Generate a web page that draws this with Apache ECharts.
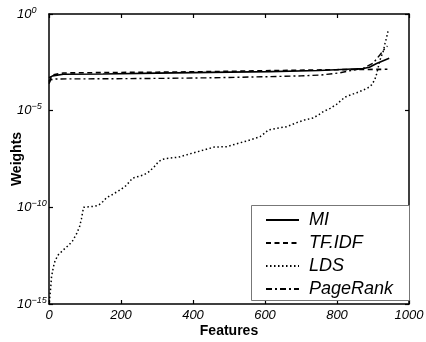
<!DOCTYPE html>
<html><head><meta charset="utf-8">
<script src="https://cdn.jsdelivr.net/npm/echarts@6/dist/echarts.min.js"></script>
<style>html,body{margin:0;padding:0;background:#fff}#c{width:426px;height:342px}</style>
</head><body><div id="c"></div>
<script>
// Data (y values given as log10 of weight)
const xTicks = [0, 200, 400, 600, 800, 1000];
const yTickExps = [0, -5, -10, -15];
const seriesNames = ['MI', 'TF.IDF', 'LDS', 'PageRank'];

const miX = [0, 10, 40, 150, 300, 450, 614, 750, 873, 890, 910, 945];
const miLog = [-3.3, -3.2, -3.12, -3.1, -3.06, -3.02, -2.98, -2.92, -2.82, -2.75, -2.56, -2.29];

const tfX = [0, 10, 40, 150, 300, 450, 614, 800, 940];
const tfLog = [-3.5, -3.15, -3.05, -3.03, -3.01, -2.98, -2.93, -2.88, -2.86];

const ldsX = [1, 3, 5, 7, 12, 17, 26, 40, 55, 65, 77, 85, 90, 93, 96, 110, 125, 137, 150, 160, 175, 193, 211, 225, 231, 245, 262, 275, 285, 295, 304, 315, 327, 359, 396, 419, 440, 460, 494, 520, 549, 586, 600, 609, 630, 660, 688, 710, 734, 750, 762, 781, 799, 822, 840, 855, 873, 885, 896, 905, 910, 914, 919, 925, 929, 933, 938, 942];
const ldsLog = [-14.9, -14.5, -14.1, -13.6, -13.1, -12.75, -12.45, -12.2, -11.95, -11.75, -11.35, -11.0, -10.6, -10.3, -10.0, -9.97, -9.95, -9.9, -9.7, -9.5, -9.35, -9.15, -8.93, -8.65, -8.5, -8.42, -8.33, -8.2, -8.03, -7.85, -7.64, -7.52, -7.47, -7.41, -7.21, -7.09, -6.98, -6.88, -6.86, -6.72, -6.57, -6.35, -6.15, -6.0, -5.92, -5.83, -5.62, -5.48, -5.38, -5.2, -5.05, -4.88, -4.67, -4.3, -4.17, -4.07, -3.93, -3.83, -3.67, -3.4, -3.1, -2.8, -2.4, -2.1, -1.9, -1.55, -1.2, -0.85];

const prX = [0, 5, 20, 150, 308, 450, 614, 700, 753, 806, 840, 873, 900, 919, 933, 940];
const prLog = [-3.6, -3.4, -3.36, -3.35, -3.33, -3.3, -3.24, -3.2, -3.16, -3.05, -2.92, -2.81, -2.55, -2.12, -1.78, -1.66];

function pairs(xs, ls) { return xs.map((x, i) => [x, Math.pow(10, ls[i])]); }

const FONT = "'Liberation Sans', Arial, Helvetica, sans-serif";
const chart = echarts.init(document.getElementById('c'), null, {renderer: 'canvas'});

const axisLineStyle = {color: '#000', width: 1.5};
const tick = {show: true, inside: true, length: 4, lineStyle: {color: '#000', width: 1.2}};

const yLabelFmt = function (v) {
  const e = Math.round(Math.log10(v));
  return '{b|10}{s|' + (e < 0 ? '\u2212' + (-e) : e) + '}';
};

const option = {
  animation: false,
  backgroundColor: '#fff',
  grid: {left: 49, right: 17, top: 14, bottom: 38, containLabel: false, outerBoundsMode: 'none'},
  xAxis: [{
    type: 'value', min: 0, max: 1000, interval: 200, position: 'bottom',
    axisLine: {show: true, lineStyle: axisLineStyle},
    axisTick: tick, splitLine: {show: false},
    axisLabel: {margin: 5, color: '#000', fontFamily: FONT, fontSize: 13, fontStyle: 'italic',
      formatter: v => xTicks.includes(v) ? String(v) : ''},
    name: 'Features', nameLocation: 'middle', nameGap: 20, nameMoveOverlap: false,
    nameTextStyle: {fontFamily: FONT, fontSize: 14, fontWeight: 'bold', color: '#000'}
  }, {
    type: 'value', min: 0, max: 1000, interval: 200, position: 'top',
    axisLine: {show: true, onZero: false, lineStyle: axisLineStyle},
    axisTick: tick, axisLabel: {show: false}, splitLine: {show: false}
  }],
  yAxis: [{
    type: 'log', logBase: 10, min: 1e-15, max: 1, interval: 5, position: 'left',
    axisLine: {show: true, lineStyle: axisLineStyle},
    axisTick: tick, splitLine: {show: false}, minorTick: {show: false},
    axisLabel: {
      margin: 32, align: 'left', color: '#000', formatter: yLabelFmt,
      rich: {
        b: {fontFamily: FONT, fontSize: 13, fontStyle: 'italic', color: '#000'},
        s: {fontFamily: FONT, fontSize: 9, fontStyle: 'italic', color: '#000', padding: [0, 0, 8, 0]}
      }
    },
    name: 'Weights', nameLocation: 'middle', nameGap: 25, nameRotate: 90, nameMoveOverlap: false,
    nameTextStyle: {fontFamily: FONT, fontSize: 14, fontWeight: 'bold', color: '#000'}
  }, {
    type: 'log', logBase: 10, min: 1e-15, max: 1, interval: 5, position: 'right',
    axisLine: {show: true, onZero: false, lineStyle: axisLineStyle},
    axisTick: tick, axisLabel: {show: false}, splitLine: {show: false}
  }],
  legend: {
    orient: 'vertical', left: 260, top: 205, itemWidth: 33, itemHeight: 14, itemGap: 3, z: 10,
    data: seriesNames,
    textStyle: {fontFamily: FONT, fontSize: 18, fontStyle: 'italic', color: '#000', lineHeight: 20, padding: [0, 0, 0, 5]},
    itemStyle: {opacity: 0}
  },
  graphic: [{
    type: 'rect', left: 251, top: 205, z: 1,
    shape: {width: 158, height: 95},
    style: {fill: '#fff', stroke: '#777', lineWidth: 1}
  }],
  series: [
    {name: 'MI', type: 'line', data: pairs(miX, miLog), showSymbol: false, symbol: 'none',
      lineStyle: {color: '#000', width: 1.6, type: 'solid'}, itemStyle: {color: '#000'}, z: 4},
    {name: 'TF.IDF', type: 'line', data: pairs(tfX, tfLog), showSymbol: false, symbol: 'none',
      lineStyle: {color: '#000', width: 1.6, type: [5, 3.5]}, itemStyle: {color: '#000'}, z: 3},
    {name: 'LDS', type: 'line', data: pairs(ldsX, ldsLog), showSymbol: false, symbol: 'none',
      lineStyle: {color: '#000', width: 1.5, type: [1.5, 2.5]}, itemStyle: {color: '#000'}, z: 2},
    {name: 'PageRank', type: 'line', data: pairs(prX, prLog), showSymbol: false, symbol: 'none',
      lineStyle: {color: '#000', width: 1.4, type: [6, 3, 2, 3]}, itemStyle: {color: '#000'}, z: 3}
  ]
};
chart.setOption(option);
</script></body></html>
